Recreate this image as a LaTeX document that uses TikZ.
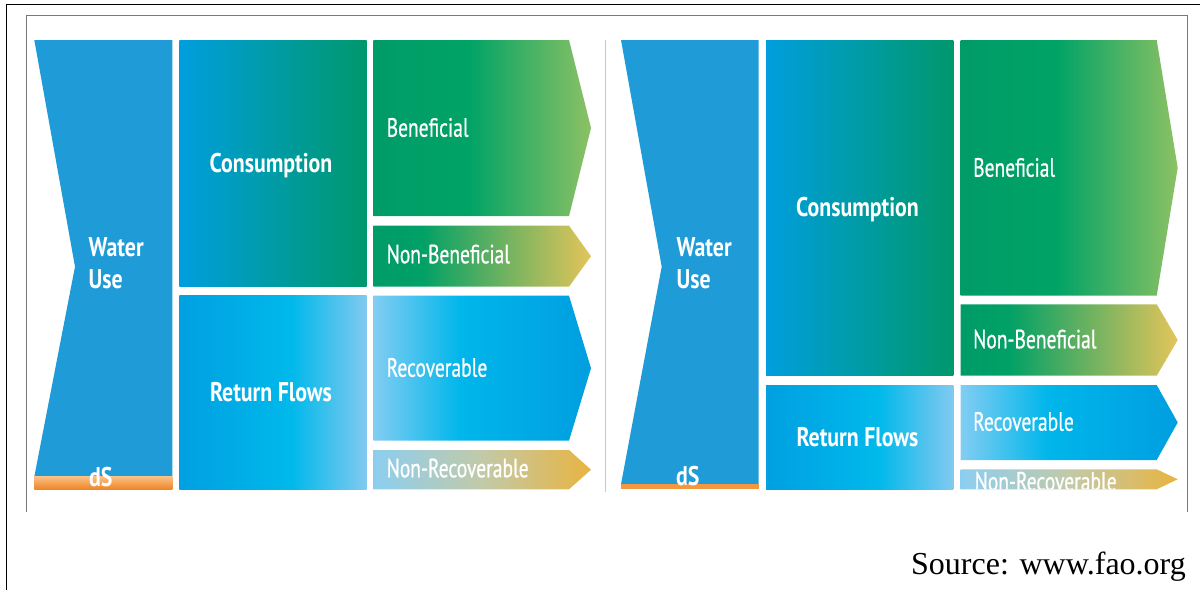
\documentclass[tikz,border=0pt]{standalone}
\usepackage{fontspec}
\setmainfont{Liberation Serif}
\newfontfamily\labfont[FakeStretch=0.74, FakeBold=0.7]{PT Sans}
\newfontfamily\blabfont[FakeStretch=0.81]{PT Sans Bold}

% horizontal colour ramps (the useful part lies between 25bp and 75bp)
\pgfdeclarehorizontalshading{consum}{100bp}{rgb(0bp)=(0,0.62,0.87); rgb(25bp)=(0,0.62,0.87); rgb(75bp)=(0,0.596,0.424); rgb(100bp)=(0,0.596,0.424)}
\pgfdeclarehorizontalshading{retflow}{100bp}{rgb(0bp)=(0,0.627,0.882); rgb(25bp)=(0,0.627,0.882); rgb(55bp)=(0,0.725,0.92); rgb(75bp)=(0.51,0.79,0.94); rgb(100bp)=(0.51,0.79,0.94)}
\pgfdeclarehorizontalshading{benef}{100bp}{rgb(0bp)=(0,0.61,0.41); rgb(25bp)=(0,0.61,0.41); rgb(47bp)=(0,0.64,0.4); rgb(75bp)=(0.55,0.757,0.39); rgb(100bp)=(0.55,0.757,0.39)}
\pgfdeclarehorizontalshading{nonbenef}{100bp}{rgb(0bp)=(0,0.61,0.41); rgb(25bp)=(0,0.61,0.41); rgb(36bp)=(0,0.63,0.4); rgb(75bp)=(0.894,0.77,0.353); rgb(100bp)=(0.894,0.77,0.353)}
\pgfdeclarehorizontalshading{recov}{100bp}{rgb(0bp)=(0.51,0.804,0.95); rgb(25bp)=(0.51,0.804,0.95); rgb(45bp)=(0,0.714,0.92); rgb(75bp)=(0,0.62,0.878); rgb(100bp)=(0,0.62,0.878)}
\pgfdeclarehorizontalshading{nonrecov}{100bp}{rgb(0bp)=(0.55,0.808,0.94); rgb(25bp)=(0.55,0.808,0.94); rgb(50bp)=(0.76,0.79,0.66); rgb(75bp)=(0.91,0.706,0.255); rgb(100bp)=(0.91,0.706,0.255)}

\definecolor{wateruse}{RGB}{31,155,215}
\definecolor{dsorange}{RGB}{243,152,62}
\definecolor{dslight}{RGB}{249,192,132}
\definecolor{dsdark}{RGB}{239,132,36}
\definecolor{framegray}{RGB}{120,120,120}
\definecolor{dividergray}{RGB}{200,200,200}

\tikzset{
  lab/.style={font=\labfont\fontsize{26.4}{28}\selectfont, text=white, inner sep=0pt, anchor=base west},
  blab/.style={font=\blabfont\fontsize{27}{30}\selectfont, text=white, inner sep=0pt},
}

\begin{document}
\begin{tikzpicture}[x=1pt,y=-1pt]
\useasboundingbox (0,0) rectangle (1200,590);
\fill[white] (0,0) rectangle (1200,590);

% outer page frame (top and left edges)
\draw[black, line width=1.4pt] (6.7,590) -- (6.7,4.7) -- (1200,4.7);
% inner frame of the figure
\draw[framegray, line width=1pt] (26.7,511.7) -- (26.7,15.7) -- (1187.3,15.7) -- (1187.3,511.7);
% divider between the two panels
\draw[dividergray, line width=0.9pt] (605.5,40) -- (605.5,492);

% ---------------- left panel ----------------
\fill[wateruse] (34.3,40) -- (172.3,40) -- (172.3,476.7) -- (34.3,476.7) -- (75,266.7) -- cycle;
\shade[top color=dslight, bottom color=dsdark] (34.3,476.7) rectangle (172.3,489.3);
\node[blab, anchor=base west] (wuA1) at (88.5,256.5) {Water};
\node[blab, anchor=base west] (wuA2) at (88.5,288.3) {Use};
\node[blab, anchor=base west] (dsA) at (89,486.7) {dS};

\shade[shading=consum] (179.3,40) rectangle (366.7,286.7);
\node[blab, anchor=base] (consA) at (271,172.3) {Consumption};
\shade[shading=retflow] (179.3,295.7) rectangle (366.7,489.3);
\node[blab, anchor=base] (retA) at (271,401) {Return Flows};

\shade[shading=benef] (373.3,40) -- (569,40) -- (591,128) -- (569,216) -- (373.3,216) -- cycle;
\node[lab] (benA) at (386.5,136.7) {Beneficial};
\shade[shading=nonbenef] (373.3,225.7) -- (569,225.7) -- (591,256.2) -- (569,286.7) -- (373.3,286.7) -- cycle;
\node[lab] (nbenA) at (386.5,263.3) {Non-Beneficial};
\shade[shading=recov] (373.3,295.7) -- (569,295.7) -- (591,368.2) -- (569,440.7) -- (373.3,440.7) -- cycle;
\node[lab] (recA) at (386.5,376.7) {Recoverable};
\shade[shading=nonrecov] (373.3,450) -- (569,450) -- (591,469.7) -- (569,489.3) -- (373.3,489.3) -- cycle;
\node[lab] (nrecA) at (386.5,477.3) {Non-Recoverable};

% ---------------- right panel ----------------
\fill[wateruse] (621,40) -- (758.7,40) -- (758.7,484.3) -- (621,484.3) -- (661.7,266.7) -- cycle;
\fill[dsorange] (621,484.3) rectangle (758.7,489.3);
\node[blab, anchor=base west] (wuB1) at (676.5,256.2) {Water};
\node[blab, anchor=base west] (wuB2) at (676.5,288.3) {Use};
\node[blab, anchor=base west] (dsB) at (676,485.7) {dS};

\shade[shading=consum] (766,40) rectangle (953.3,375.7);
\node[blab, anchor=base] (consB) at (857.5,216.7) {Consumption};
\shade[shading=retflow] (766,385) rectangle (953.3,489.3);
\node[blab, anchor=base] (retB) at (857.5,446.7) {Return Flows};

\shade[shading=benef] (960.7,40) -- (1156.7,40) -- (1177.7,167.8) -- (1156.7,295.7) -- (960.7,295.7) -- cycle;
\node[lab] (benB) at (973,176.7) {Beneficial};
\shade[shading=nonbenef] (960.7,304.3) -- (1156.7,304.3) -- (1177.7,340) -- (1156.7,375.7) -- (960.7,375.7) -- cycle;
\node[lab] (nbenB) at (973,348.3) {Non-Beneficial};
\shade[shading=recov] (960.7,385) -- (1156.7,385) -- (1177.7,422.5) -- (1156.7,460) -- (960.7,460) -- cycle;
\node[lab] (recB) at (973,430.7) {Recoverable};
\begin{scope}
  \clip (960.7,469.3) -- (1156.7,469.3) -- (1177.7,479.3) -- (1156.7,489.3) -- (960.7,489.3) -- cycle;
  \shade[shading=nonrecov] (960.7,469.3) -- (1156.7,469.3) -- (1177.7,479.3) -- (1156.7,489.3) -- (960.7,489.3) -- cycle;
  \node[lab] (nrecB) at (974.5,490.5) {Non-Recoverable};
\end{scope}

% source line
\node[anchor=base east, inner sep=0pt, font=\fontsize{32}{36}\selectfont] (src) at (1186,574.5) {Source: www.fao.org};
\end{tikzpicture}
\end{document}
